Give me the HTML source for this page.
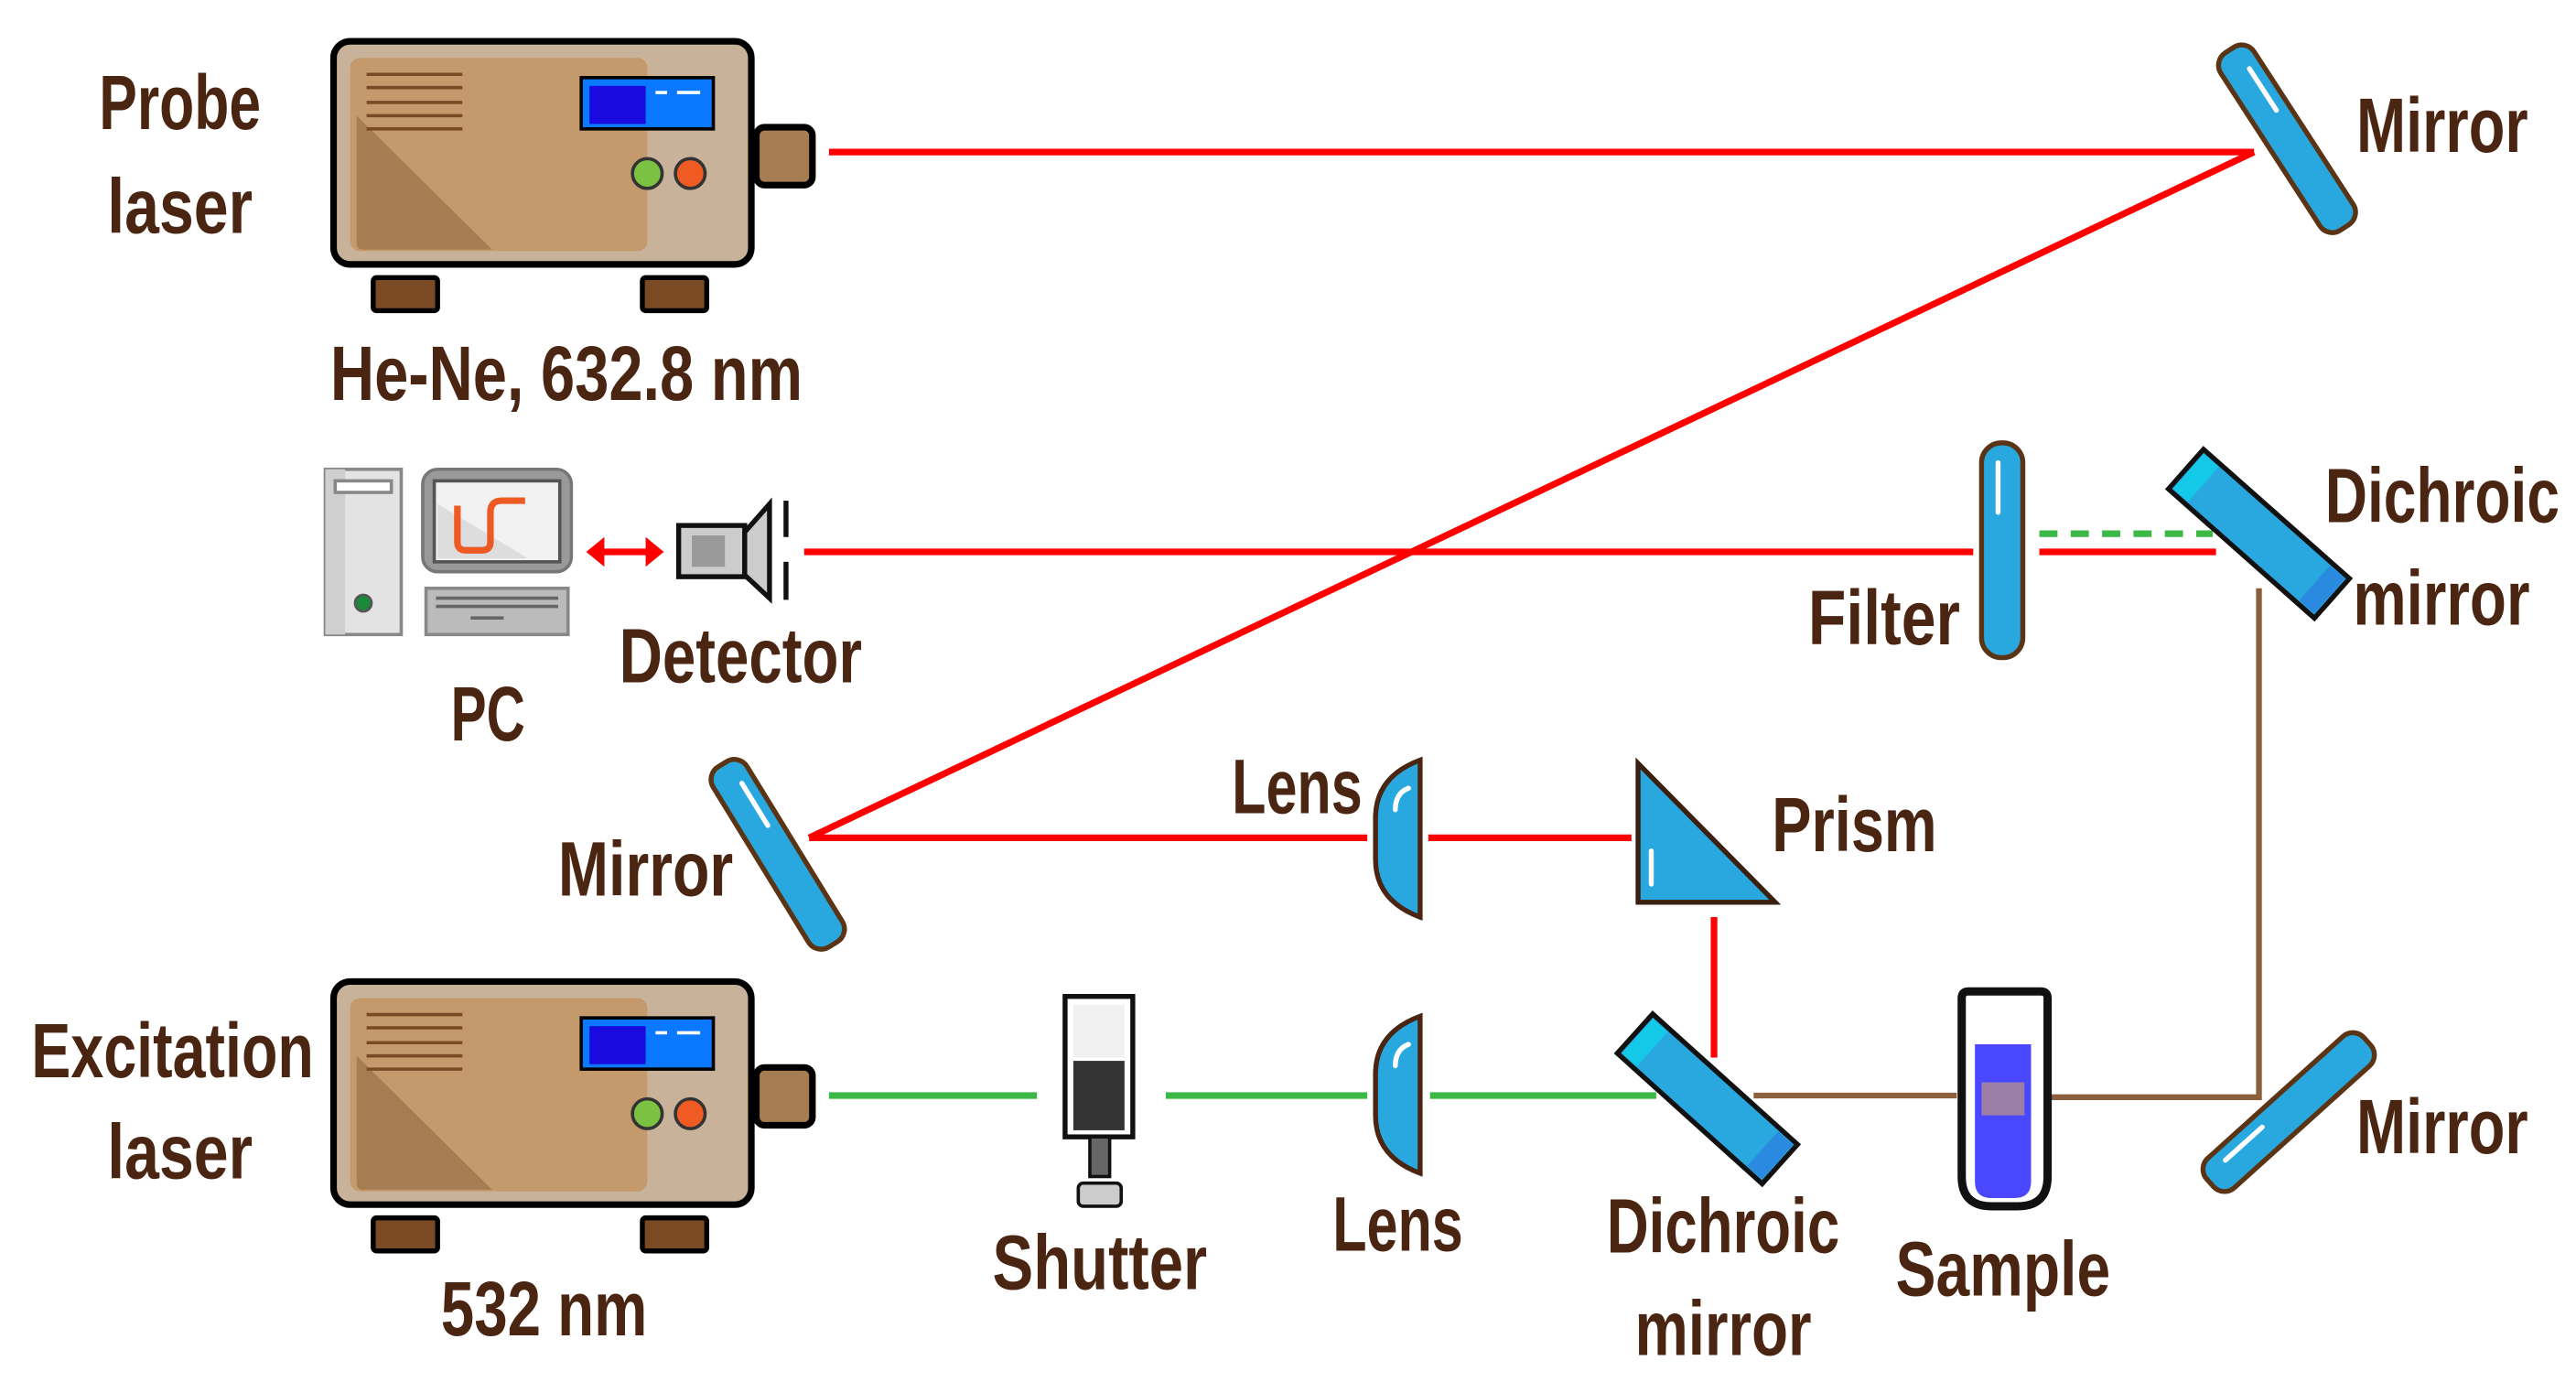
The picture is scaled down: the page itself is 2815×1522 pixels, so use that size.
<!DOCTYPE html>
<html><head><meta charset="utf-8"><style>
html,body{margin:0;padding:0;background:#fff}
svg{display:block}
text{font-family:"Liberation Sans Narrow","Liberation Sans",sans-serif;font-weight:bold;fill:#4a2511;font-size:47px}
</style></head><body>
<svg width="2815" height="1522" viewBox="0 0 1560 843" preserveAspectRatio="none" xmlns="http://www.w3.org/2000/svg">
<defs>
<g id="laser">
  <rect x="0" y="0" width="253" height="135" rx="10" fill="#c8b39a" stroke="#000" stroke-width="4"/>
  <rect x="10" y="10" width="180" height="117" rx="6" fill="#c49a6c"/>
  <path d="M14 45 L14 122 Q14 126 18 126 L96 126 Z" fill="#a67c52"/>
  <g stroke="#7a4a25" stroke-width="2"><line x1="20" y1="20" x2="78" y2="20"/><line x1="20" y1="28" x2="78" y2="28"/><line x1="20" y1="37" x2="78" y2="37"/><line x1="20" y1="45" x2="78" y2="45"/><line x1="20" y1="53" x2="78" y2="53"/></g>
  <rect x="150" y="22" width="80" height="31" fill="#0a78ff" stroke="#000" stroke-width="2"/>
  <rect x="155" y="27" width="34" height="23" fill="#1a0ae0"/>
  <g stroke="#fff" stroke-width="2"><line x1="195" y1="31" x2="202" y2="31"/><line x1="208" y1="31" x2="222" y2="31"/></g>
  <circle cx="190" cy="80" r="9" fill="#7cc242" stroke="#333" stroke-width="2"/>
  <circle cx="216" cy="80" r="9" fill="#f05a23" stroke="#333" stroke-width="2"/>
  <rect x="256" y="52" width="34" height="35" rx="5" fill="#a67c52" stroke="#000" stroke-width="4"/>
  <rect x="24" y="143" width="39" height="20" rx="2" fill="#7a4a25" stroke="#000" stroke-width="3"/>
  <rect x="187" y="143" width="39" height="20" rx="2" fill="#7a4a25" stroke="#000" stroke-width="3"/>
</g>
<g id="mir">
  <rect x="-64" y="-12" width="128" height="24" rx="9" fill="#29a8e0" stroke="#5a3414" stroke-width="3"/>
  <line x1="-48" y1="-4" x2="-18" y2="-4" stroke="#fff" stroke-width="3" stroke-linecap="round"/>
</g>
<g id="dich">
  <rect x="-59" y="-16" width="118" height="32" fill="#29a8e0" stroke="#111" stroke-width="3"/>
  <polygon points="-57,-14 -45,-14 -45,14 -57,14" fill="#14c8e8"/>
  <polygon points="45,-14 57,-14 57,14 45,14" fill="#2a8ae0"/>
</g>
<g id="lens">
  <path d="M27 0 L27 95 Q0 85 0 60 L0 35 Q0 10 27 0 Z" fill="#29a8e0" stroke="#4a2511" stroke-width="3"/>
  <path d="M12 30 Q12 20 20 17" stroke="#fff" stroke-width="3" fill="none" stroke-linecap="round"/>
</g>
</defs>

<g stroke="#ff0000" stroke-width="4" fill="none">
  <line x1="502" y1="92" x2="1365" y2="92"/>
  <line x1="1365" y1="92" x2="490" y2="507"/>
  <line x1="490" y1="507" x2="828" y2="507"/>
  <line x1="865" y1="507" x2="988" y2="507"/>
  <line x1="1038" y1="555" x2="1038" y2="640"/>
  <line x1="487" y1="334" x2="1195" y2="334"/>
  <line x1="1235" y1="334" x2="1342" y2="334"/>
</g>
<line x1="1235" y1="323" x2="1340" y2="323" stroke="#3cb846" stroke-width="4" stroke-dasharray="11,8"/>
<g stroke="#3cb846" stroke-width="4">
  <line x1="502" y1="663" x2="628" y2="663"/>
  <line x1="706" y1="663" x2="828" y2="663"/>
  <line x1="866" y1="663" x2="1003" y2="663"/>
</g>
<g stroke="#8b5e3c" stroke-width="3.5" fill="none">
  <polyline points="1368,356 1368,664 1242,664"/>
  <line x1="1062" y1="663" x2="1185" y2="663"/>
</g>

<use href="#laser" x="202" y="25"/>
<use href="#laser" x="202" y="594"/>

<use href="#mir" transform="translate(1385,84) rotate(57)"/>
<use href="#mir" transform="translate(471,517) rotate(58.4)"/>
<use href="#mir" transform="translate(1386,673) rotate(-42)"/>
<use href="#dich" transform="translate(1368,323) rotate(41.5)"/>
<use href="#dich" transform="translate(1034,665) rotate(42)"/>

<rect x="1200" y="268" width="25" height="130" rx="12" fill="#29a8e0" stroke="#5a3414" stroke-width="3"/>
<line x1="1210" y1="280" x2="1210" y2="310" stroke="#fff" stroke-width="3" stroke-linecap="round"/>

<use href="#lens" x="833" y="460"/>
<use href="#lens" x="833" y="615"/>

<polygon points="992,462 992,546 1075,546" fill="#29a8e0" stroke="#3a2010" stroke-width="3"/>
<line x1="1000" y1="515" x2="1000" y2="535" stroke="#fff" stroke-width="3" stroke-linecap="round"/>

<rect x="645" y="603" width="41" height="85" fill="#fff" stroke="#111" stroke-width="3"/>
<rect x="650" y="608" width="31" height="32" fill="#f0f0f0"/>
<rect x="650" y="642" width="31" height="42" fill="#333"/>
<rect x="660" y="688" width="12" height="24" fill="#666" stroke="#111" stroke-width="2"/>
<rect x="653" y="716" width="26" height="14" rx="3" fill="#ccc" stroke="#111" stroke-width="2"/>

<path d="M1188 604 Q1188 600 1192 600 L1236 600 Q1240 600 1240 604 L1240 712 Q1240 730 1222 730 L1206 730 Q1188 730 1188 712 Z" fill="#fff" stroke="#111" stroke-width="5"/>
<path d="M1196 632 L1230 632 L1230 715 Q1230 725 1220 725 L1206 725 Q1196 725 1196 715 Z" fill="#4a48ff"/>
<rect x="1200" y="655" width="26" height="20" fill="#9b7fa8"/>

<rect x="197" y="284" width="46" height="100" fill="#e3e3e3" stroke="#888" stroke-width="2"/>
<rect x="197" y="284" width="12" height="100" fill="#cfcfcf"/>
<rect x="203" y="291" width="34" height="7" fill="#fff" stroke="#888" stroke-width="2"/>
<circle cx="220" cy="365" r="5" fill="#1a8a3a" stroke="#555" stroke-width="1.5"/>
<rect x="256" y="284" width="90" height="62" rx="9" fill="#999" stroke="#777" stroke-width="2"/>
<rect x="263" y="291" width="76" height="49" fill="#f2f2f2" stroke="#555" stroke-width="2"/>
<polygon points="265,305 320,338 265,338" fill="#ddd"/>
<path d="M277 306 L277 328 Q277 333 282 333 L292 333 Q297 333 297 328 L297 310 Q297 303 304 303 L318 303" stroke="#ee5a24" stroke-width="4" fill="none"/>
<rect x="258" y="356" width="86" height="28" fill="#bbb" stroke="#888" stroke-width="2"/>
<g stroke="#666" stroke-width="2"><line x1="264" y1="362" x2="338" y2="362"/><line x1="264" y1="367" x2="338" y2="367"/><line x1="285" y1="374" x2="305" y2="374"/></g>

<line x1="362" y1="334" x2="396" y2="334" stroke="#ff0000" stroke-width="4"/>
<polygon points="355,334 366,325 366,343" fill="#ff0000"/>
<polygon points="402,334 391,325 391,343" fill="#ff0000"/>

<rect x="411" y="318" width="40" height="31" fill="#ccc" stroke="#111" stroke-width="3"/>
<rect x="419" y="324" width="20" height="19" fill="#999"/>
<polygon points="451,322 466,305 466,362 451,348" fill="#ccc" stroke="#111" stroke-width="3"/>
<line x1="476" y1="303" x2="476" y2="325" stroke="#111" stroke-width="3"/>
<line x1="476" y1="340" x2="476" y2="363" stroke="#111" stroke-width="3"/>

<g lengthAdjust="spacingAndGlyphs">
<text x="60" y="78" textLength="98" lengthAdjust="spacingAndGlyphs">Probe</text>
<text x="65" y="141" textLength="88" lengthAdjust="spacingAndGlyphs">laser</text>
<text x="200" y="242" textLength="286" lengthAdjust="spacingAndGlyphs">He-Ne, 632.8 nm</text>
<text x="1427" y="92" textLength="104" lengthAdjust="spacingAndGlyphs">Mirror</text>
<text x="1408" y="316" textLength="142" lengthAdjust="spacingAndGlyphs">Dichroic</text>
<text x="1425" y="378" textLength="107" lengthAdjust="spacingAndGlyphs">mirror</text>
<text x="1095" y="390" textLength="92" lengthAdjust="spacingAndGlyphs">Filter</text>
<text x="273" y="448" textLength="45" lengthAdjust="spacingAndGlyphs">PC</text>
<text x="375" y="413" textLength="147" lengthAdjust="spacingAndGlyphs">Detector</text>
<text x="746" y="492" textLength="79" lengthAdjust="spacingAndGlyphs">Lens</text>
<text x="1073" y="515" textLength="100" lengthAdjust="spacingAndGlyphs">Prism</text>
<text x="338" y="542" textLength="106" lengthAdjust="spacingAndGlyphs">Mirror</text>
<text x="19" y="652" textLength="171" lengthAdjust="spacingAndGlyphs">Excitation</text>
<text x="65" y="713" textLength="88" lengthAdjust="spacingAndGlyphs">laser</text>
<text x="267" y="808" textLength="125" lengthAdjust="spacingAndGlyphs">532 nm</text>
<text x="601" y="780" textLength="130" lengthAdjust="spacingAndGlyphs">Shutter</text>
<text x="807" y="757" textLength="79" lengthAdjust="spacingAndGlyphs">Lens</text>
<text x="973" y="758" textLength="141" lengthAdjust="spacingAndGlyphs">Dichroic</text>
<text x="990" y="820" textLength="107" lengthAdjust="spacingAndGlyphs">mirror</text>
<text x="1148" y="784" textLength="130" lengthAdjust="spacingAndGlyphs">Sample</text>
<text x="1427" y="698" textLength="104" lengthAdjust="spacingAndGlyphs">Mirror</text>
</g>
</svg>
</body></html>
